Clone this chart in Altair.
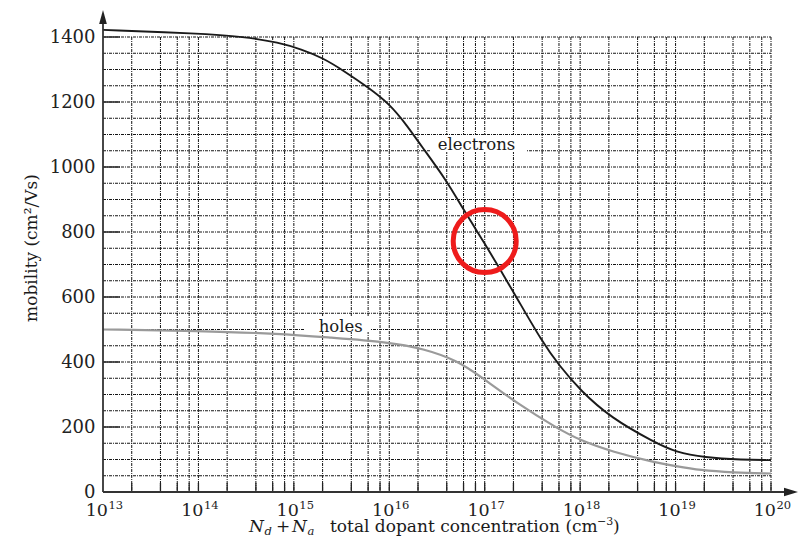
import altair as alt
import pandas as pd

# ---- data ----
e_conc = [1e13, 1e14, 3e14, 7e14, 1.2e15, 2e15, 3.3e15, 6e15, 1e16, 1.55e16,
          2.1e16, 4e16, 6e16, 1e17, 1.4e17, 2.1e17, 4e17, 6e17, 1e18, 2.1e18, 6e18,
          1e19, 2e19, 5e19, 1e20]
e_mob = [1422, 1411, 1401, 1383, 1362, 1336, 1297, 1245, 1195, 1126,
         1070, 958, 868, 765, 692, 605, 462, 390, 313, 228, 153,
         123, 106, 99, 98]

h_conc = [1e13, 1e14, 7.2e14, 2.4e15, 9.5e15, 2.3e16, 5.1e16, 8.9e16, 2.2e17, 5.8e17,
          1e18, 2.2e18, 5.9e18, 1e19, 1.8e19, 4e19, 1e20]
h_mob = [500, 496, 487, 475, 462, 441, 405, 357, 272, 195,
         159, 123, 92, 80, 67, 60, 57]

decade_exps = [13, 14, 15, 16, 17, 18, 19, 20]
grid_mantissas = [2, 4, 6, 8, 10]
y_label_values = [0, 200, 400, 600, 800, 1000, 1200, 1400]
y_grid_values = list(range(50, 1401, 50))

series_labels = ["electrons", "holes"]
label_conc = [8.2e16, 3.1e15]
label_mob = [1052, 492]

highlight_conc = [1e17]
highlight_mob = [772]

# ---- tables ----
W, H = 668, 455
FONT = "DejaVu Serif"
xs = alt.Scale(type="log", domain=[1e13, 1e20], nice=False)
ys = alt.Scale(domain=[0, 1400], nice=False, zero=True)
yaxis = alt.Axis(values=y_label_values, domain=False, ticks=False, grid=False, format="d",
                 labelFont=FONT, labelFontSize=18, labelColor="#222", labelPadding=8)

df_e = pd.DataFrame({"c": e_conc, "m": e_mob})
df_h = pd.DataFrame({"c": h_conc, "m": h_mob})
vgrid = [m * 10 ** e for e in decade_exps[:-1] for m in grid_mantissas]
df_vg = pd.DataFrame({"c": vgrid})
df_hg = pd.DataFrame({"m": y_grid_values})
df_yt = pd.DataFrame({"m": y_label_values[1:]})
df_dec = pd.DataFrame({"c": [10.0 ** e for e in decade_exps],
                       "base": ["10"] * len(decade_exps),
                       "exp": [str(e) for e in decade_exps]})
df_lab = pd.DataFrame({"c": label_conc, "m": label_mob, "t": series_labels})
df_hl = pd.DataFrame({"c": highlight_conc, "m": highlight_mob})

X = lambda: alt.X("c:Q", scale=xs, axis=None)
Y = lambda: alt.Y("m:Q", scale=ys, axis=yaxis, title=None)

DASH = [3, 1, 1, 1]
GRID_COLOR = "#151515"

hgrid = alt.Chart(df_hg).mark_rule(color=GRID_COLOR, strokeWidth=1, strokeDash=DASH).encode(
    y=Y(), x=alt.value(0), x2=alt.value(W))
vgrid_l = alt.Chart(df_vg).mark_rule(color=GRID_COLOR, strokeWidth=1, strokeDash=DASH).encode(
    x=X(), y=alt.value(0), y2=alt.value(H))
xticks = alt.Chart(df_vg).mark_rule(color="#222", strokeWidth=1.3).encode(
    x=X(), y=alt.value(H), y2=alt.value(H - 9))
yticks = alt.Chart(df_yt).mark_rule(color="#333", strokeWidth=1.6).encode(
    y=Y(), x=alt.value(0), x2=alt.value(17))

# white backgrounds behind the series labels
box_e = alt.Chart(df_lab.iloc[[0]]).mark_rect(color="white").encode(
    x=alt.value(327), x2=alt.value(424), y=alt.value(98), y2=alt.value(115))
box_h = alt.Chart(df_lab.iloc[[1]]).mark_rect(color="white").encode(
    x=alt.value(202), x2=alt.value(267), y=alt.value(279), y2=alt.value(295))

line_h = alt.Chart(df_h).mark_line(color="#9a9a9a", strokeWidth=2.2, interpolate="basis").encode(
    x=X(), y=Y())
line_e = alt.Chart(df_e).mark_line(color="#1a1a1a", strokeWidth=1.9, interpolate="basis").encode(
    x=X(), y=Y())

labels = alt.Chart(df_lab).mark_text(font=FONT, fontSize=16.5, color="#1a1a1a",
                                     align="center", baseline="alphabetic").encode(
    x=X(), y=Y(), text="t:N")

# axis lines and arrows
yline = alt.Chart(df_hl).mark_rule(color="#333", strokeWidth=1.8).encode(
    x=alt.value(0), y=alt.value(-20), y2=alt.value(H))
xline = alt.Chart(df_hl).mark_rule(color="#333", strokeWidth=1.8).encode(
    y=alt.value(H), x=alt.value(0), x2=alt.value(688))
yarrow = alt.Chart(df_hl).mark_point(shape="M0,-1L0.55,1L-0.55,1Z", filled=True, size=196,
                                     color="#222", opacity=1).encode(
    x=alt.value(0), y=alt.value(-20))
xarrow = alt.Chart(df_hl).mark_point(shape="M1,0L-1,-0.6L-1,0.6Z", filled=True, size=196,
                                     color="#222", opacity=1).encode(
    x=alt.value(688), y=alt.value(H))

# x tick labels: 10 with raised exponent
xlab_base = alt.Chart(df_dec).mark_text(font=FONT, fontSize=17.5, color="#222", align="right",
                                        baseline="alphabetic", dx=5).encode(
    x=X(), y=alt.value(H + 23.5), text="base:N")
xlab_exp = alt.Chart(df_dec).mark_text(font=FONT, fontSize=11.5, color="#222", align="left",
                                       baseline="alphabetic", dx=5.5).encode(
    x=X(), y=alt.value(H + 17), text="exp:N")

# axis titles
def txt(s, x, y, size=17, style="normal", align="left", angle=0):
    return alt.Chart(df_hl).mark_text(text=s, font=FONT, fontSize=size, fontStyle=style,
                                      color="#1a1a1a", align=align, baseline="alphabetic",
                                      angle=angle).encode(x=alt.value(x), y=alt.value(y))

ytitle = txt("mobility (cm²/Vs)", -66, 211, size=17, align="center", angle=270)
TB = H + 39.5
xt = [
    txt("N", 146, TB, style="italic"),
    txt("d", 161.5, TB + 3, size=11.5, style="italic"),
    txt("+", 173, TB),
    txt("N", 189, TB, style="italic"),
    txt("a", 204.5, TB + 3, size=11.5, style="italic"),
    txt("total dopant concentration (cm", 227, TB),
    txt("−3", 494, TB - 7, size=11),
    txt(")", 510, TB),
]

circle = alt.Chart(df_hl).mark_point(shape="circle", size=3969, filled=False,
                                     color="#ee1c1c", strokeWidth=5, opacity=1).encode(
    x=X(), y=Y())

chart = alt.layer(
    hgrid, vgrid_l, xticks, yticks, box_e, box_h, line_h, line_e, labels,
    yline, xline, yarrow, xarrow, xlab_base, xlab_exp, ytitle, *xt, circle
).properties(
    width=W, height=H,
    padding={"left": 95, "top": 29, "right": 28, "bottom": 44},
    autosize=alt.AutoSizeParams(type="none"),
).configure_view(stroke=None)

chart.save("out.html", embed_options={"renderer": "svg", "actions": False})
